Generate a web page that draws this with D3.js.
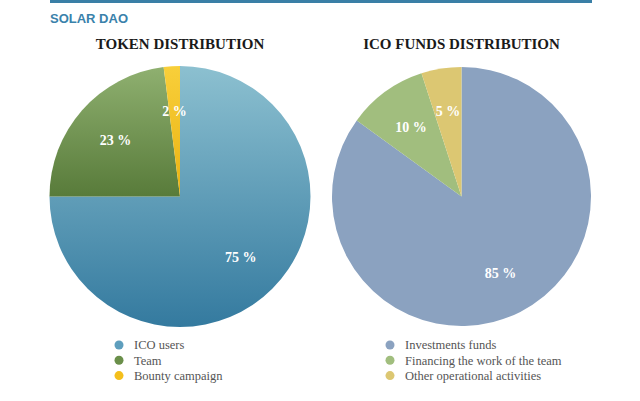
<!DOCTYPE html>
<html><head><meta charset="utf-8">
<script src="https://cdn.jsdelivr.net/npm/d3@7"></script>
<style>body{margin:0;background:#fff}svg{display:block}</style>
</head><body>
<svg id="c" width="640" height="401"></svg>
<script>
const tokenCategories = ["ICO users", "Team", "Bounty campaign"];
const tokenValues = [75, 23, 2];
const fundCategories = ["Investments funds", "Financing the work of the team", "Other operational activities"];
const fundValues = [85, 10, 5];

const svg = d3.select("#c");
svg.append("rect").attr("x", 50).attr("y", 0).attr("width", 542).attr("height", 3).attr("fill", "#3a7fa6");
svg.append("text").attr("x", 50).attr("y", 23).text("SOLAR DAO")
  .attr("font-family", "Liberation Sans, Arial, sans-serif").attr("font-weight", "bold")
  .attr("font-size", 13).attr("fill", "#3a82ab");

const defs = svg.append("defs");
function grad(id, c1, c2, y1, y2) {
  const g = defs.append("linearGradient").attr("id", id).attr("gradientUnits", "userSpaceOnUse")
    .attr("x1", 0).attr("x2", 0).attr("y1", y1).attr("y2", y2);
  g.append("stop").attr("offset", 0).attr("stop-color", c1);
  g.append("stop").attr("offset", 1).attr("stop-color", c2);
  return "url(#" + id + ")";
}

function drawPie(cx, cy, R, title, cats, vals, fills, legendColors, legX) {
  svg.append("text").attr("x", cx).attr("y", 49).attr("text-anchor", "middle").text(title)
    .attr("font-family", "Liberation Serif, Times New Roman, serif").attr("font-weight", "bold")
    .attr("font-size", 15).attr("fill", "#1a1a1a");
  const pie = d3.pie().sort(null).value(d => d)(vals);
  const arc = d3.arc().innerRadius(0).outerRadius(R);
  const lab = d3.arc().innerRadius(86).outerRadius(86);
  const g = svg.append("g").attr("transform", `translate(${cx},${cy})`);
  g.selectAll("path").data(pie).join("path").attr("d", arc).attr("fill", (d, i) => fills[i]);
  g.selectAll("text").data(pie).join("text")
    .attr("transform", d => `translate(${lab.centroid(d)})`)
    .attr("text-anchor", "middle").attr("dy", "0.35em")
    .attr("font-family", "Liberation Serif, Times New Roman, serif").attr("font-weight", "bold")
    .attr("font-size", 14).attr("fill", "#fff")
    .text(d => d.data + " %");
  const lg = svg.append("g");
  cats.forEach((c, i) => {
    const y = 345 + i * 15.3;
    lg.append("circle").attr("cx", legX).attr("cy", y).attr("r", 4.5).attr("fill", legendColors[i]);
    lg.append("text").attr("x", legX + 15).attr("y", y).attr("dy", "0.35em").text(c)
      .attr("font-family", "Liberation Serif, Times New Roman, serif").attr("font-size", 12.5).attr("fill", "#555");
  });
}

const leftFills = [
  grad("gb", "#8cc0d0", "#347a9f", -130, 130),
  grad("gg", "#8fb070", "#587b3a", -130, 0),
  grad("gy", "#f8cf3a", "#eab212", -130, 0)
];
drawPie(180, 196.5, 130.5, "TOKEN DISTRIBUTION", tokenCategories, tokenValues, leftFills,
  ["#5e9ebd", "#6a8f4a", "#f4bf1c"], 119);
drawPie(461.5, 196.5, 129.5, "ICO FUNDS DISTRIBUTION", fundCategories, fundValues,
  ["#8ba2c0", "#a1be7e", "#dcc772"], ["#8ba2c0", "#a1be7e", "#dcc772"], 390);
</script>
</body></html>
